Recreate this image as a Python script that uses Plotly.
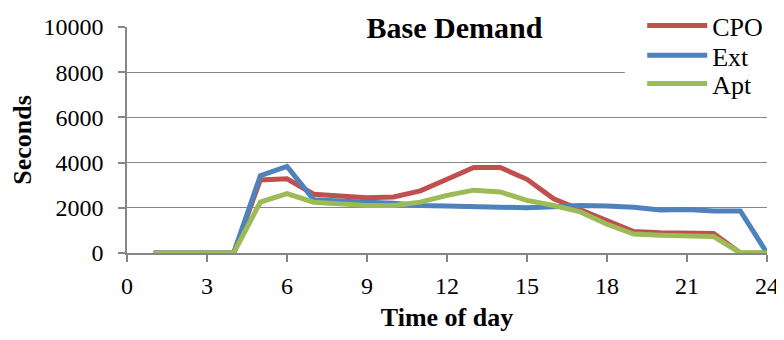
import plotly.graph_objects as go

hours = list(range(1, 25))
cpo = [0, 0, 0, 0, 3230, 3280, 2600, 2530, 2450, 2480, 2750, 3260, 3780, 3780, 3260, 2400, 1900, 1430, 950, 900, 900, 860, 0, 0]
ext = [0, 0, 0, 0, 3420, 3830, 2360, 2280, 2250, 2200, 2100, 2080, 2050, 2030, 2000, 2050, 2100, 2080, 2020, 1900, 1930, 1860, 1860, 0]
apt = [0, 0, 0, 0, 2250, 2630, 2250, 2150, 2100, 2100, 2250, 2550, 2780, 2700, 2330, 2100, 1820, 1270, 840, 790, 750, 730, 0, 0]

series = [("CPO", cpo, "#C0504D"), ("Ext", ext, "#4F81BD"), ("Apt", apt, "#9BBB59")]
x_ticks = list(range(0, 25, 3))
y_ticks = list(range(0, 10001, 2000))

FONT = "Liberation Serif, Times New Roman, serif"
AX = "#868686"

fig = go.Figure()
legend_ids = ["legend", "legend2", "legend3"]
legend_tops = [1.11, 0.978, 0.853]
for (name, vals, col), lid in zip(series, legend_ids):
    fig.add_trace(go.Scatter(x=hours, y=vals, name=name, mode="lines", legend=lid,
                             line=dict(color=col, width=5)))

legend_common = dict(x=0.805, xanchor="left", yanchor="top", bgcolor="rgba(0,0,0,0)",
                     font=dict(size=26, family=FONT), itemwidth=60)
layout_legends = {lid: dict(legend_common, y=top) for lid, top in zip(legend_ids, legend_tops)}

# the page body has an 8px margin, so the figure is sized/offset to compensate
fig.update_layout(
    width=776, height=332,
    margin=dict(l=119, r=17, t=19, b=87, autoexpand=False),
    paper_bgcolor="white", plot_bgcolor="white",
    font=dict(family=FONT, size=24, color="black"),
    showlegend=True,
    # white panel behind the legend (hides the gridlines there, as in the original)
    shapes=[dict(type="rect", xref="paper", yref="paper", x0=0.778, x1=1.0, y0=0.68, y1=1.03,
                 fillcolor="white", line=dict(width=0), layer="above")],
    annotations=[dict(text="&nbsp;<b>Base Demand</b>&nbsp;", x=0.5, xref="paper",
                      y=1.0, yref="paper", yanchor="middle", showarrow=False,
                      font=dict(size=30, family=FONT), bgcolor="white",
                      borderpad=0, xshift=7, yshift=0)],
    **layout_legends,
)
fig.update_xaxes(range=[0, 24], tickvals=x_ticks, ticktext=[str(t) for t in x_ticks],
                 showgrid=False, zeroline=False, showline=True, linecolor=AX, linewidth=1.5,
                 ticks="outside", ticklen=7, tickcolor=AX, tickwidth=1.5,
                 ticklabelstandoff=3, automargin=False,
                 title=dict(text="<b>Time of day</b>", font=dict(size=26, family=FONT), standoff=10))
fig.update_yaxes(range=[0, 10000], tickvals=y_ticks, ticktext=[str(t) for t in y_ticks],
                 showgrid=True, gridcolor=AX, gridwidth=1.2, zeroline=False,
                 showline=True, linecolor=AX, linewidth=1.5,
                 ticks="outside", ticklen=7, tickcolor=AX, tickwidth=1.5,
                 ticklabelstandoff=10, automargin=False,
                 title=dict(text="<b>Seconds</b>", font=dict(size=26, family=FONT), standoff=8))

fig.write_html("out.html")
